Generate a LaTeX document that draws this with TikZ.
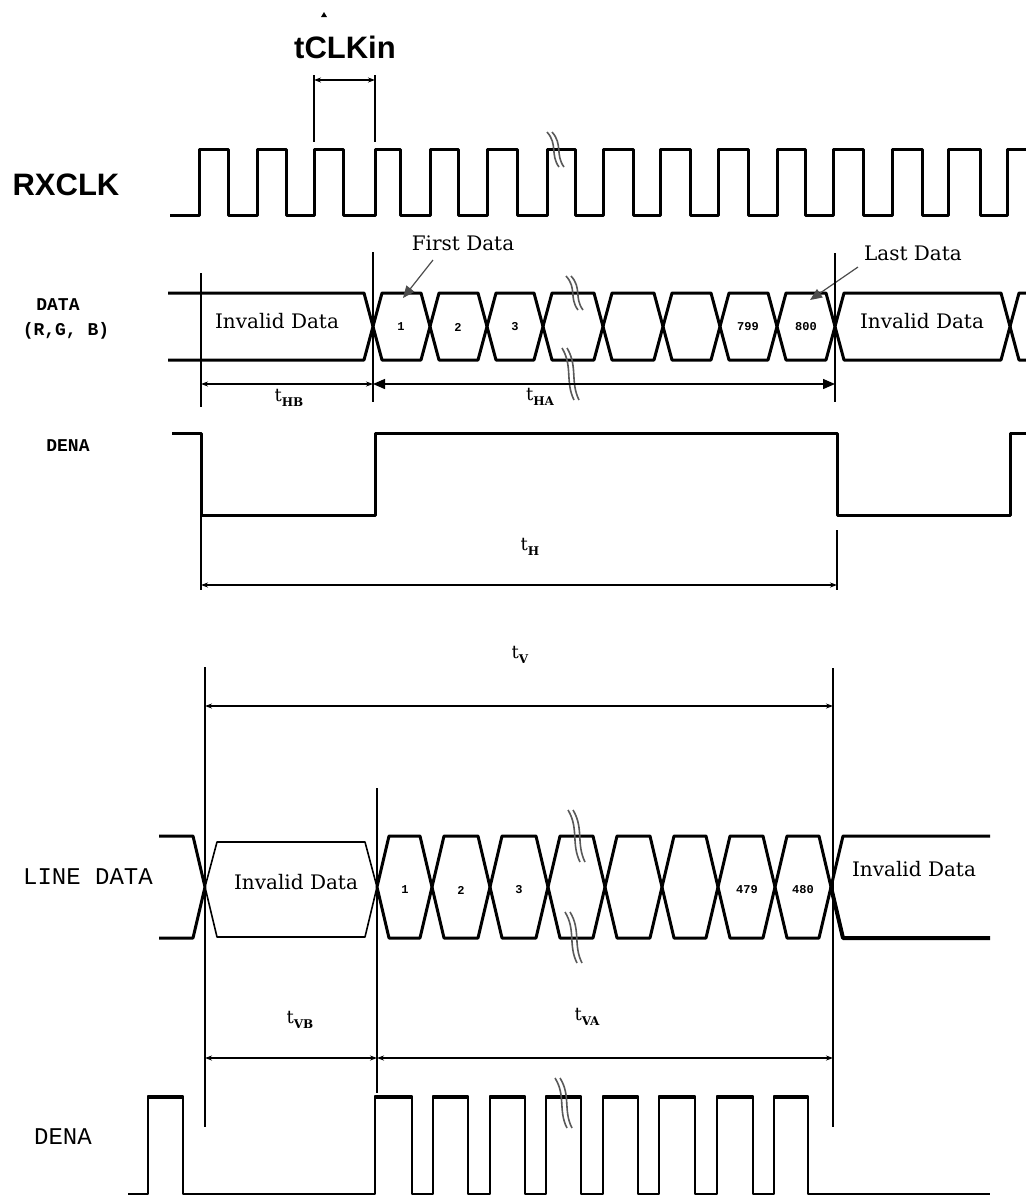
\documentclass[tikz,border=0pt]{standalone}
\usepackage{fontspec}
\setmainfont{DejaVu Serif}
\newfontfamily\lsans{Liberation Sans}
\newfontfamily\lmono{Liberation Mono}
\usetikzlibrary{arrows.meta}
\newcommand{\tsub}[1]{{\fontsize{9}{9}\selectfont t}\raisebox{-2.4pt}{\fontsize{6}{6}\selectfont\bfseries #1}}
\newcommand{\brkmark}[3]{%
  \pgfmathsetmacro\brkh{#3-#2}%
  \draw[brk] ({#1-6},#2) .. controls ({#1+5},{#2+0.35*\brkh}) and ({#1-3},{#2+0.65*\brkh}) .. ({#1+6},#3);%
  \draw[brk] ({#1-1},#2) .. controls ({#1+10},{#2+0.35*\brkh}) and ({#1+2},{#2+0.65*\brkh}) .. ({#1+11},#3);%
}
\begin{document}
\begin{tikzpicture}[x=0.5pt,y=-0.5pt,
  sig/.style={line width=1.5pt,line join=round},
  thinsig/.style={line width=0.8pt,line join=round},
  vline/.style={line width=0.7pt},
  dim/.style={line width=0.7pt,{Stealth[length=3.5pt,width=2.5pt]}-{Stealth[length=3.5pt,width=2.5pt]}},
  bigdim/.style={line width=0.7pt,{Triangle[length=6pt,width=5pt]}-{Triangle[length=6pt,width=5pt]}},
  callout/.style={line width=0.6pt,black!70,-{Triangle[length=6pt,width=5pt]}},
  brk/.style={line width=0.8pt,black!65},
  bigsans/.style={font=\lsans\bfseries\fontsize{15.5}{16}\selectfont,inner sep=0pt},
  inv/.style={font=\fontsize{10}{10}\selectfont,inner sep=0pt},
  num/.style={font=\lmono\bfseries\fontsize{6}{6}\selectfont,inner sep=0pt},
  lbl/.style={font=\lmono\bfseries\fontsize{9}{9}\selectfont,inner sep=0pt},
  biglbl/.style={font=\lmono\fontsize{12}{12}\selectfont,inner sep=0pt},
  tl/.style={inner sep=0pt}
]
\useasboundingbox (0,0) rectangle (1026,1196);
\fill[white] (0,0) rectangle (1026,1196);

% ---------- tCLKin ----------
\fill (321,17) -- (327,17) -- (324,12) -- cycle;
\node[bigsans] (tclk) at (345,47) {tCLKin};
\coordinate (ca) at (314,80);
\coordinate (cb) at (375,80);
\draw[vline] (314,75) -- (314,142);
\draw[vline] (375,75) -- (375,142);
\draw[dim] (ca) -- (cb);

% ---------- RXCLK ----------
\node[bigsans] (rxclk) at (66,185) {RXCLK};
\draw[sig] (170,215)
  \foreach \r/\f in {199/228,257/286,314/343,375/400,430/458,487/517,547/575,603/633,660/690,718/748,777/805,833/863,892/922,948/980}
   { -- (\r,215) -- (\r,149) -- (\f,149) -- (\f,215) }
  -- (1007,215) -- (1007,149) -- (1030,149);
\brkmark{553}{132}{167}

% ---------- DATA ----------
\node[lbl] (datal) at (58,305) {DATA};
\node[lbl] (rgbl) at (66,331) {(R,G, B)};
\draw[sig] (168,293) -- (364,293) -- (373,326.5) -- (364,360) -- (168,360);
\foreach \a/\b in {373/430,430/487,487/543,543/603,603/663,663/720,720/777,777/835,835/1010}
  \draw[sig] (\a,326.5) -- (\a+9,293) -- (\b-9,293) -- (\b,326.5) -- (\b-9,360) -- (\a+9,360) -- cycle;
\draw[sig] (1010,326.5) -- (1019,293) -- (1030,293);
\draw[sig] (1010,326.5) -- (1019,360) -- (1030,360);
\node[inv] (inv1) at (277,321) {Invalid Data};
\node[inv] (inv2) at (922,321) {Invalid Data};
\node[num] (d1) at (401,327) {1};
\node[num] (d2) at (458,327) {2};
\node[num] (d3) at (515,327) {3};
\node[num] (d799) at (748,327) {799};
\node[num] (d800) at (806,327) {800};
\brkmark{572}{276}{310}
\brkmark{568}{348}{400}

\node[inv] (first) at (463,243) {First Data};
\node[inv] (last) at (913,253) {Last Data};
\coordinate (fa) at (433,260);
\coordinate (fb) at (403,298);
\coordinate (la) at (858,267);
\coordinate (lb) at (810,300);
\draw[callout] (fa) -- (fb);
\draw[callout] (la) -- (lb);

\draw[vline] (201,273) -- (201,407);
\draw[vline] (373,252) -- (373,402);
\draw[vline] (835,253) -- (835,402);
\coordinate (hb1) at (201,384);
\coordinate (hb2) at (373,384);
\coordinate (ha2) at (835,384);
\draw[dim] (hb1) -- (hb2);
\draw[bigdim] (hb2) -- (ha2);
\node[tl] (thb) at (289,398) {\tsub{HB}};
\node[tl] (tha) at (540,397) {\tsub{HA}};

% ---------- DENA (upper) ----------
\node[lbl] (dena1) at (68,446) {DENA};
\draw[sig] (172,433) -- (201,433) -- (201,515) -- (375,515) -- (375,433) -- (837,433) -- (837,515) -- (1010,515) -- (1010,433) -- (1030,433);
\draw[vline] (201,515) -- (201,590);
\draw[vline] (837,530) -- (837,590);
\coordinate (th1) at (201,585);
\coordinate (th2) at (837,585);
\draw[dim] (th1) -- (th2);
\node[tl] (th) at (530,547) {\tsub{H}};

% ---------- tV ----------
\node[tl] (tv) at (520,655) {\tsub{V}};
\coordinate (tv1) at (205,706);
\coordinate (tv2) at (833,706);
\draw[vline] (205,667) -- (205,1127);
\draw[vline] (833,668) -- (833,1127);
\draw[vline] (377,788) -- (377,1093);
\draw[dim] (tv1) -- (tv2);

% ---------- LINE DATA ----------
\node[biglbl] (linel) at (88,877) {LINE DATA};
\draw[sig] (159,836) -- (193,836) -- (205,887);
\draw[sig] (159,938) -- (193,938) -- (205,887);
\draw[thinsig] (205,887) -- (217,842) -- (365,842) -- (377,887) -- (365,937) -- (217,937) -- cycle;
\foreach \a/\b in {377/432,432/490,490/548,548/605,605/662,662/718,718/775,775/831}
  \draw[sig] (\a,887) -- (\a+12,836) -- (\b-12,836) -- (\b,887) -- (\b-12,938) -- (\a+12,938) -- cycle;
\draw[sig] (831,887) -- (843,836) -- (990,836);
\draw[line width=2pt,line join=round] (831,887) -- (843,938) -- (990,938);
\node[inv] (inv3) at (296,882) {Invalid Data};
\node[inv] (inv4) at (914,869) {Invalid Data};
\node[num] (e1) at (405,890) {1};
\node[num] (e2) at (461,890) {2};
\node[num] (e3) at (519,890) {3};
\node[num] (e479) at (747,890) {479};
\node[num] (e480) at (803,890) {480};
\brkmark{574}{810}{862}
\brkmark{571}{912}{963}

% ---------- tVB / tVA ----------
\coordinate (vb1) at (205,1058);
\coordinate (vb2) at (377,1058);
\coordinate (va2) at (833,1058);
\draw[dim] (vb1) -- (vb2);
\draw[dim] (vb2) -- (va2);
\node[tl] (tvb) at (300,1020) {\tsub{VB}};
\node[tl] (tva) at (587,1017) {\tsub{VA}};

% ---------- DENA (lower) ----------
\node[biglbl] (dena2) at (63,1137) {DENA};
\draw[line width=1pt,line join=round] (128,1194)
  \foreach \r/\f in {148/183,375/412,433/468,490/525,546/581,603/638,659/695,717/753,774/808}
   { -- (\r,1194) -- (\r,1096) -- (\f,1096) -- (\f,1194) }
  -- (990,1194);
\foreach \r/\f in {148/183,375/412,433/468,490/525,546/581,603/638,659/695,717/753,774/808}
  \draw[line width=2.2pt] (\r,1097) -- (\f,1097);
\brkmark{561}{1078}{1128}
\end{tikzpicture}
\end{document}
